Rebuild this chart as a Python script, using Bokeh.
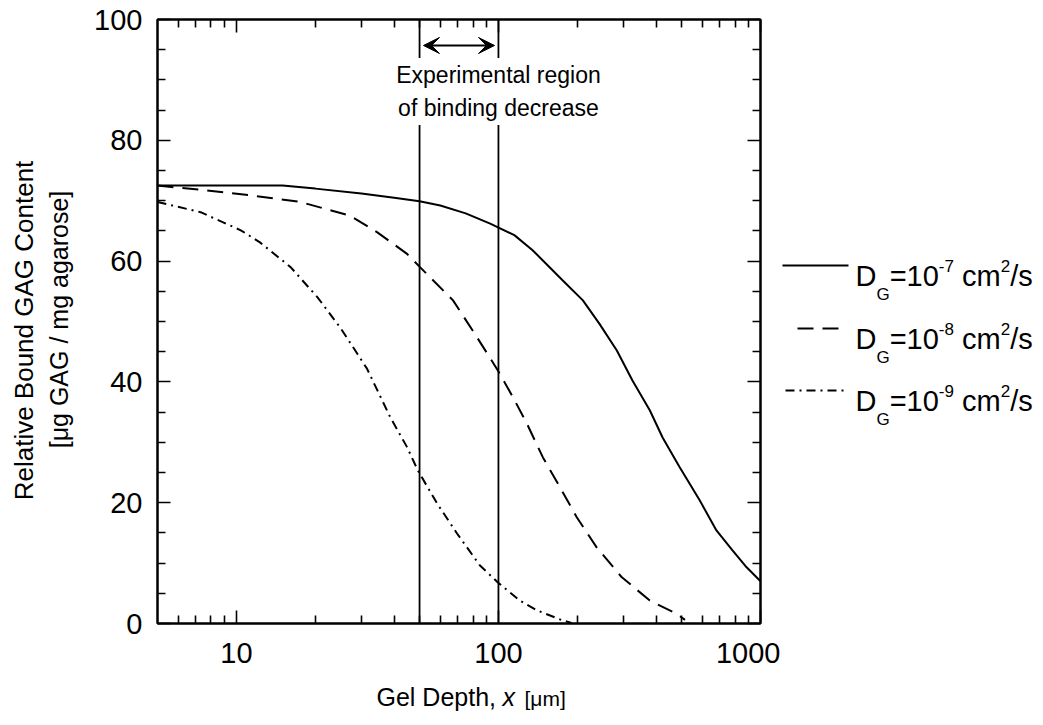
import math
from bokeh.plotting import figure
from bokeh.layouts import row, column
from bokeh.models import (Range1d, LogAxis, LinearAxis, FixedTicker, PrintfTickFormatter,
                          CustomJSTickFormatter, Span, Label, Arrow, VeeHead)
from bokeh.core.properties import value
from bokeh.embed import file_html
from bokeh.resources import INLINE

# ---------------- data ----------------
depth_d7 = [5, 15, 20, 30, 40, 50, 60, 75, 93, 115, 135, 176, 210, 243, 283, 325, 378, 423, 491, 586, 679, 782, 885, 1000]
gag_d7 = [72.5, 72.5, 72.0, 71.2, 70.5, 69.9, 69.2, 67.9, 66.2, 64.3, 61.8, 56.8, 53.5, 49.6, 45.2, 40.2, 35.3, 30.8, 25.9, 20.4, 15.4, 12.1, 9.3, 7.0]

depth_d8 = [5, 7.3, 11.3, 17.5, 27.2, 34.4, 44.8, 50.2, 67.1, 82.8, 99.5, 113.5, 128.4, 147.8, 171.5, 199, 237, 295, 378, 479, 515]
gag_d8 = [72.5, 71.8, 70.9, 69.8, 67.5, 64.8, 61.2, 59.0, 53.5, 47.4, 41.9, 37.5, 33.1, 27.5, 22.6, 17.6, 12.6, 7.7, 3.8, 1.6, 0.6]

depth_d9 = [5, 7.3, 10.4, 12.3, 16.1, 20.4, 24.9, 28.9, 31.5, 38.6, 44.8, 49.3, 58.3, 69.5, 85, 99.5, 120.7, 140, 176, 190]
gag_d9 = [69.8, 68.1, 65.1, 63.1, 59.0, 54.0, 49.0, 44.7, 42.2, 34.2, 29.2, 25.3, 19.9, 14.9, 9.6, 6.8, 3.8, 2.2, 0.5, 0.1]

region = [50, 100]
region_text = ["Experimental region", "of binding decrease"]

x_ticks = [10, 100, 1000]
x_minor = [6, 7, 8, 9, 20, 30, 40, 50, 60, 70, 80, 90, 200, 300, 400, 500, 600, 700, 800, 900]
y_ticks = [0, 20, 40, 60, 80, 100]
y_minor = [v for v in range(0, 101, 5) if v % 20]

exponents = ["-7", "-8", "-9"]
y_title = ["Relative Bound GAG Content", "[\u03bcg GAG / mg agarose]"]
x_title = ["Gel Depth,", "x", "[\u03bcm]"]
FONT = "Liberation Sans"
BL = 0.37  # baseline correction (fraction of font size)

# ---------------- geometry ----------------
TOTAL_W, TOTAL_H = 1043, 725
LEFT_W = 80
FRAME_L, FRAME_R, FRAME_T, FRAME_B = 157, 760, 19, 623
ROW_H = 678
MAIN_W = 780 - LEFT_W
LEG_W = TOTAL_W - 780
BOT_H = TOTAL_H - ROW_H


def canvas(w, h, xr, yr, top=0, bottom=0):
    f = figure(width=w, height=h, x_range=Range1d(*xr), y_range=Range1d(*yr),
               output_backend="svg", toolbar_location=None, x_axis_location=None,
               y_axis_location=None, min_border_left=0, min_border_right=0,
               min_border_top=top, min_border_bottom=bottom, outline_line_color=None)
    f.grid.visible = False
    f.background_fill_color = "white"
    f.border_fill_color = "white"
    return f


# ---------------- main plot ----------------
p = figure(width=MAIN_W, height=ROW_H, x_axis_type="log", x_range=Range1d(5, 1000), y_range=Range1d(0, 100),
           output_backend="svg", toolbar_location=None, x_axis_location=None, y_axis_location=None,
           min_border_left=FRAME_L - LEFT_W, min_border_right=780 - FRAME_R,
           min_border_top=FRAME_T, min_border_bottom=ROW_H - FRAME_B)
p.grid.visible = False
p.outline_line_color = "black"
p.outline_line_width = 2
p.background_fill_color = "white"
p.border_fill_color = "white"


def style_axis(ax, labels):
    ax.axis_line_width = 2
    ax.axis_line_color = "black"
    ax.major_tick_in = 13
    ax.major_tick_out = 0
    ax.minor_tick_in = 8
    ax.minor_tick_out = 0
    ax.major_tick_line_width = 1.6
    ax.minor_tick_line_width = 1.6
    ax.major_tick_line_color = "black"
    ax.minor_tick_line_color = "black"
    ax.major_label_text_font = FONT
    ax.major_label_text_font_size = "29px"
    ax.major_label_text_color = "black"
    if not labels:
        ax.formatter = CustomJSTickFormatter(code="return ''")


xb = LogAxis(ticker=FixedTicker(ticks=x_ticks, minor_ticks=x_minor), formatter=PrintfTickFormatter(format="%d"))
style_axis(xb, True)
xb.major_label_standoff = 19
p.add_layout(xb, "below")
xt = LogAxis(ticker=FixedTicker(ticks=x_ticks, minor_ticks=x_minor))
style_axis(xt, False)
p.add_layout(xt, "above")

yl = LinearAxis(ticker=FixedTicker(ticks=y_ticks, minor_ticks=y_minor), formatter=PrintfTickFormatter(format="%d"))
style_axis(yl, True)
yl.major_label_standoff = 15
p.add_layout(yl, "left")
yr = LinearAxis(ticker=FixedTicker(ticks=y_ticks, minor_ticks=y_minor))
style_axis(yr, False)
p.add_layout(yr, "right")

p.line(depth_d7, gag_d7, line_color="black", line_width=2)
p.line(depth_d8, gag_d8, line_color="black", line_width=2, line_dash="16 9")
p.line(depth_d9, gag_d9, line_color="black", line_width=2, line_dash="9 5 2 5")

for r in region:
    p.add_layout(Span(location=r, dimension="height", line_color="black", line_width=1.8))

p.add_layout(Arrow(start=VeeHead(size=16, fill_color="black", line_color="black"),
                   end=VeeHead(size=16, fill_color="black", line_color="black"),
                   x_start=region[0] * 1.035, x_end=region[1] / 1.035, y_start=95.7, y_end=95.7,
                   line_width=2, line_color="black"))

ANN = 23
for i, t in enumerate(region_text):
    p.add_layout(Label(x=341, y=FRAME_B - 83 - 33 * i + BL * ANN, x_units="screen", y_units="screen", text=t,
                       text_align="center", text_baseline="alphabetic", text_font=FONT,
                       text_font_size=f"{ANN}px", text_color="black",
                       background_fill_color="white", padding=4))

# ---------------- left panel: y title ----------------
left = canvas(LEFT_W, ROW_H, (0, LEFT_W), (FRAME_B, FRAME_T), top=FRAME_T, bottom=ROW_H - FRAME_B)
for txt, bx, cy, size in [(y_title[0], 33, 330, 26), (y_title[1], 68, 319, 25)]:
    left.text(x=[bx - BL * size], y=[cy], text=[txt], angle=math.pi / 2, text_font=value(FONT),
              text_font_size=f"{size}px", text_align="center", text_baseline="alphabetic",
              text_color="black")

# ---------------- legend panel ----------------
lg = canvas(LEG_W, ROW_H, (780, TOTAL_W), (FRAME_B, FRAME_T), top=FRAME_T, bottom=ROW_H - FRAME_B)

key_styles = [dict(line_dash="solid", x=(782, 848)),
              dict(line_dash="16 9", x=(797, 845)),
              dict(line_dash="9 5 2 5", x=(785, 845))]
baselines = [286, 349, 411]
BIG, SMALL = 29, 17
adv = {"D": .722, "G": .778, "=": .584, "1": .556, "0": .556, "-": .333, "7": .556, "8": .556,
       "9": .556, " ": .278, "c": .5, "m": .833, "2": .556, "/": .278, "s": .5}


def width(s, size):
    return sum(adv[c] for c in s) * size


for ks, base, ex in zip(key_styles, baselines, exponents):
    ly = base - 21
    lg.line(list(ks["x"]), [ly, ly], line_color="black", line_width=2, line_dash=ks["line_dash"])
    pieces = [("D", BIG, 0, 0), ("G", SMALL, 14, 0), ("=10", BIG, 0, 0), (ex, SMALL, -14, 0),
              ("cm", BIG, 0, width(" ", BIG)), ("2", SMALL, -14, 0), ("/s", BIG, 0, 0)]
    cx = 855
    for txt, size, dy, gap in pieces:
        cx += gap
        lg.text(x=[cx], y=[base + dy - BL * size], text=[txt], text_font=value(FONT),
                text_font_size=f"{size}px", text_baseline="alphabetic", text_align="left",
                text_color="black")
        cx += width(txt, size)

# ---------------- bottom panel: x title ----------------
bot = canvas(TOTAL_W, BOT_H, (0, TOTAL_W), (TOTAL_H, ROW_H))
xb0, xbase = 376, 706
for txt, dx, size, style in [(x_title[0], 0, 25, "normal"), (x_title[1], 126, 25, "italic"),
                             (x_title[2], 148, 21, "normal")]:
    bot.text(x=[xb0 + dx], y=[xbase - BL * size], text=[txt], text_font=value(FONT),
             text_font_size=f"{size}px", text_font_style=style, text_baseline="alphabetic",
             text_align="left", text_color="black")

layout = column(row(left, p, lg), bot)
open("out.html", "w").write(file_html(layout, INLINE))
